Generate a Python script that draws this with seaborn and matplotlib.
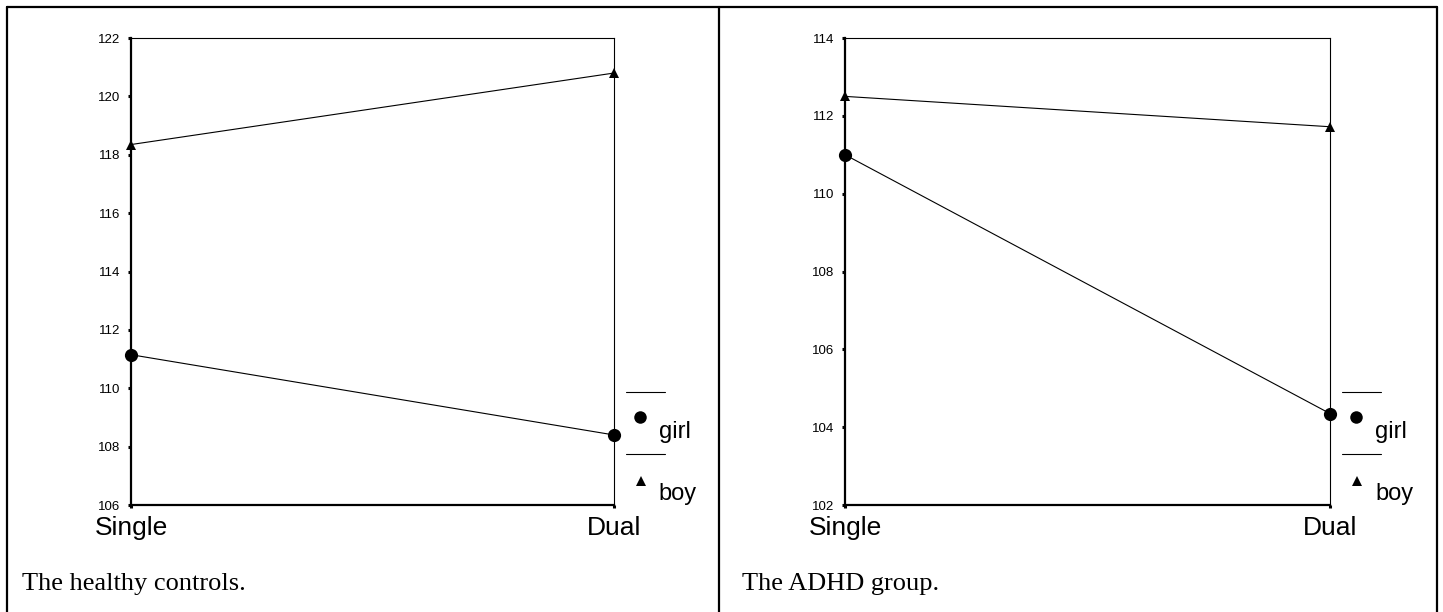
import pandas as pd
import matplotlib.pyplot as plt
import seaborn as sns
from matplotlib.lines import Line2D

# values
tasks = ["Single", "Dual"]
healthy_girl = [111.15, 108.4]
healthy_boy = [118.35, 120.8]
adhd_girl = [111.0, 104.35]
adhd_boy = [112.5, 111.72]
captions = ["The healthy controls.", "The ADHD group."]
ylims = [(106, 122), (102, 114)]

sns.set_style("white")
plt.rcParams["font.family"] = ["Liberation Sans", "DejaVu Sans"]
plt.rcParams["text.color"] = "black"


def make_df(girl, boy):
    rows = []
    for t, g, b in zip(tasks, girl, boy):
        rows.append({"task": t, "score": g, "sex": "girl"})
        rows.append({"task": t, "score": b, "sex": "boy"})
    return pd.DataFrame(rows)


fig = plt.figure(figsize=(14.43, 6.12), dpi=100)
axes = [fig.add_axes([0.0908, 0.1748, 0.3347, 0.7631]),
        fig.add_axes([0.5856, 0.1748, 0.3361, 0.7631])]
frames = [make_df(healthy_girl, healthy_boy), make_df(adhd_girl, adhd_boy)]

for ax, df, ylim, cap, cx in zip(axes, frames, ylims, captions, [0.0152, 0.514]):
    sns.lineplot(data=df, x="task", y="score", style="sex",
                 markers={"girl": "o", "boy": "^"}, dashes=False,
                 color="black", linewidth=0.8, legend=False, ax=ax)
    for ln in ax.lines:
        ln.set_clip_on(False)
        ln.set_markeredgewidth(0)
        ln.set_markersize(9.5 if ln.get_marker() == "o" else 7.5)
    ax.set_xlim(0, 1)
    ax.set_ylim(*ylim)
    ax.set_yticks(range(ylim[0], ylim[1] + 1, 2))
    ax.set_xlabel("")
    ax.set_ylabel("")
    for side in ["left", "bottom"]:
        ax.spines[side].set_linewidth(1.6)
    for side in ["top", "right"]:
        ax.spines[side].set_linewidth(0.8)
    for sp in ax.spines.values():
        sp.set_color("black")
    ax.tick_params(axis="y", direction="out", length=2, width=2.2, pad=6,
                   labelsize=9.5, left=True, color="black", labelcolor="black")
    ax.tick_params(axis="x", direction="out", length=2, width=2.2, pad=6,
                   labelsize=19, bottom=True, color="black", labelcolor="black")

    # hand-drawn legend to the right of the plot
    kw = dict(transform=ax.transAxes, clip_on=False, color="black")
    ax.add_line(Line2D([1.025, 1.105], [0.242, 0.242], linewidth=0.8, **kw))
    ax.add_line(Line2D([1.053], [0.188], marker="o", markersize=9,
                       markeredgewidth=0, **kw))
    ax.text(1.093, 0.1435, "girl", transform=ax.transAxes, fontsize=17,
            va="baseline", ha="left")
    ax.add_line(Line2D([1.025, 1.105], [0.109, 0.109], linewidth=0.8, **kw))
    ax.add_line(Line2D([1.055], [0.052], marker="^", markersize=6.5,
                       markeredgewidth=0, **kw))
    ax.text(1.093, 0.011, "boy", transform=ax.transAxes, fontsize=17,
            va="baseline", ha="left")

    fig.text(cx, 0.036, cap, fontsize=19, family="Liberation Serif",
             va="baseline", ha="left")

# panel frames (top, left, divider, right; bottom edge is cut off)
fk = dict(color="black", linewidth=1.6, transform=fig.transFigure)
x0, x1, xm = 6.5 / 1443, 1437 / 1443, 719 / 1443
y0, y1 = 0.0, 1 - 7 / 612
fig.add_artist(Line2D([x0, x1], [y1, y1], **fk))
fig.add_artist(Line2D([x0, x0], [y0, y1], **fk))
fig.add_artist(Line2D([x1, x1], [y0, y1], **fk))
fig.add_artist(Line2D([xm, xm], [y0, y1], **fk))

fig.savefig("out.png", dpi=100, facecolor="white")
